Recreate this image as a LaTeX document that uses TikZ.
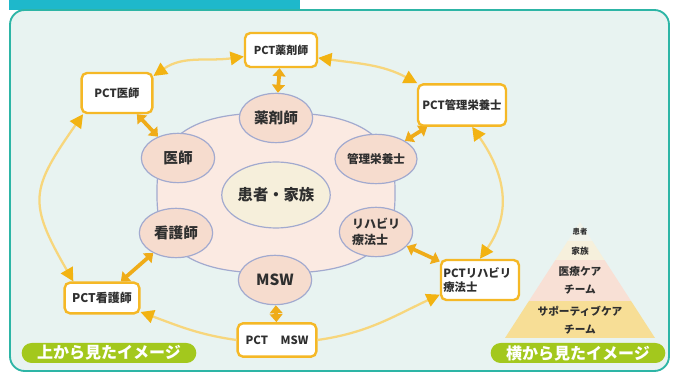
\documentclass[tikz,border=0pt]{standalone}
\usepackage{fontspec}
\setmainfont{Noto Sans CJK JP}
\usetikzlibrary{shapes.geometric,arrows.meta}
\definecolor{panelbg}{HTML}{E8F3F1}
\definecolor{panelline}{HTML}{2DB5A6}
\definecolor{tabc}{HTML}{1EB8CB}
\definecolor{blobfill}{HTML}{FBEAE2}
\definecolor{ellfill}{HTML}{F6DCCE}
\definecolor{ctrfill}{HTML}{F6EFDB}
\definecolor{ellline}{HTML}{A2AACF}
\definecolor{boxline}{HTML}{F5B826}
\definecolor{cycline}{HTML}{F7D67C}
\definecolor{cyctip}{HTML}{F2B312}
\definecolor{dblc}{HTML}{EFAC19}
\definecolor{pillc}{HTML}{A3C81D}
\definecolor{txt}{HTML}{2F2F2F}
\definecolor{pyA}{HTML}{F1F3EA}
\definecolor{pyB}{HTML}{F6F0DC}
\definecolor{pyC}{HTML}{F8E0D5}
\definecolor{pyD}{HTML}{F7DE96}
\begin{document}
\begin{tikzpicture}[x=0.75pt,y=-0.75pt,
  role/.style={ellipse, draw=ellline, line width=0.9pt, fill=ellfill,
    minimum width=55pt, minimum height=37pt, inner sep=0pt,
    font=\bfseries\fontsize{11}{12}\selectfont, text=txt, align=center},
  pct/.style={rectangle, rounded corners=4pt, draw=boxline, line width=1.8pt,
    fill=white, inner sep=1pt, font=\bfseries\fontsize{8.5}{10}\selectfont, text=txt},
  cyc/.style={draw=cycline, line width=1.7pt},
  both/.style={{Triangle[length=10pt,width=10pt,color=cyctip]}-{Triangle[length=10pt,width=10pt,color=cyctip]}},
  endonly/.style={-{Triangle[length=10pt,width=10pt,color=cyctip]}},
  dbl/.style={draw=dblc, line width=2.8pt,
    {Triangle[length=6pt,width=9.5pt]}-{Triangle[length=6pt,width=9.5pt]}},
  pillst/.style={rectangle, rounded corners=7.5pt, fill=pillc, text=white,
    minimum width=131pt, minimum height=15pt, inner sep=0pt,
    font=\bfseries\fontsize{12}{13}\selectfont},
  pyt/.style={font=\bfseries\fontsize{8}{10}\selectfont, text=txt, inner sep=0pt, align=center}
]
\useasboundingbox (0,0) rectangle (676,374);
\fill[white] (0,0) rectangle (676,374);
% panel
\fill[tabc] (9,0) rectangle (300,10);
\draw[panelline, fill=panelbg, line width=1.4pt]
  (10,190) [rounded corners=11pt] -- (10,371) -- (669,371) -- (669,10) -- (10,10) [sharp corners] -- cycle;
% blob
\draw[ellline, fill=blobfill, line width=0.9pt]
  plot[domain=1:361, samples=121, smooth cycle]
  ({276+119*sign(cos(\x))*abs(cos(\x))^0.75}, {193+80*sign(sin(\x))*abs(sin(\x))^0.75});
% inner nodes
\node[role, fill=ctrfill, minimum width=70.5pt, minimum height=49.5pt,
  font=\bfseries\fontsize{11.5}{12}\selectfont] (pt) at (276,195) {患者・家族};
\node[role] (yaku) at (276,118) {薬剤師};
\node[role] (ishi) at (178,158) {医師};
\node[role, font=\bfseries\fontsize{8.7}{10}\selectfont] (kanri) at (376,159) {管理栄養士};
\node[role, align=left, font=\bfseries\fontsize{9}{11.5}\selectfont] (reha) at (376,232) {リハビリ\\療法士};
\node[role] (kango) at (176,233) {看護師};
\node[role, font=\bfseries\fontsize{11.5}{12}\selectfont] (msw) at (275,280) {MSW};
% PCT boxes
\node[pct, minimum width=54pt, minimum height=25.5pt, font=\bfseries\fontsize{8.2}{9}\selectfont] (pY) at (281,50) {PCT薬剤師};
\node[pct, minimum width=53pt, minimum height=30pt] (pI) at (117,93) {PCT医師};
\node[pct, minimum width=66pt, minimum height=31pt] (pK) at (462,105) {PCT管理栄養士};
\node[pct, minimum width=56pt, minimum height=23pt, font=\bfseries\fontsize{9}{10}\selectfont] (pN) at (102,298) {PCT看護師};
\node[pct, minimum width=59pt, minimum height=25pt] (pM) at (277,340) {PCT\hspace{1.1em}MSW};
\node[pct, minimum width=58.5pt, minimum height=30pt, text width=55pt, align=left,
  font=\bfseries\fontsize{8.5}{10.5}\selectfont] (pR) at (480,280) {PCTリハビリ\\療法士};
% outer cycle
\draw[cyc, both] (pI.25) to[out=35, in=188] (pY.190);
\draw[cyc, both] (pY.-12) to[out=-8, in=152] (pK.154);
\draw[cyc, both] (pK.-65) to[out=-55, in=55, looseness=1.1] (pR.north);
\draw[cyc, endonly] (pM.east) to[out=8, in=205] (pR.200);
\draw[cyc, endonly] (pM.west) to[out=172, in=-20] (pN.-20);
\draw[cyc, both] (pI.212) to[out=235, in=120, looseness=1.4] (pN.150);
% double arrows
\draw[dbl] (yaku) -- (pY);
\draw[dbl] (ishi) -- (pI);
\draw[dbl] (kanri) -- (pK);
\draw[dbl] (kango) -- (pN);
\draw[dbl] (reha) -- (pR);
\draw[dbl] (msw) -- (pM);
% pyramid
\begin{scope}
  \clip (580,222) -- (505,338) -- (655,338) -- cycle;
  \fill[pyA] (500,215) rectangle (660,241);
  \fill[pyB] (500,241) rectangle (660,260);
  \fill[pyC] (500,260) rectangle (660,301);
  \fill[pyD] (500,301) rectangle (660,339);
\end{scope}
\node[pyt, font=\bfseries\fontsize{5.5}{7}\selectfont] (k1) at (580,232) {患者};
\node[pyt, font=\bfseries\fontsize{6.5}{8}\selectfont] (k2) at (580,251) {家族};
\node[pyt] (k3) at (580,280) {医療ケア\\[3.5pt]チーム};
\node[pyt] (k4) at (580,320) {サポーティブケア\\[3.5pt]チーム};
% pills
\node[pillst] (top) at (109,353) {上から見たイメージ};
\node[pillst] (side) at (578,353) {横から見たイメージ};
\end{tikzpicture}
\end{document}
